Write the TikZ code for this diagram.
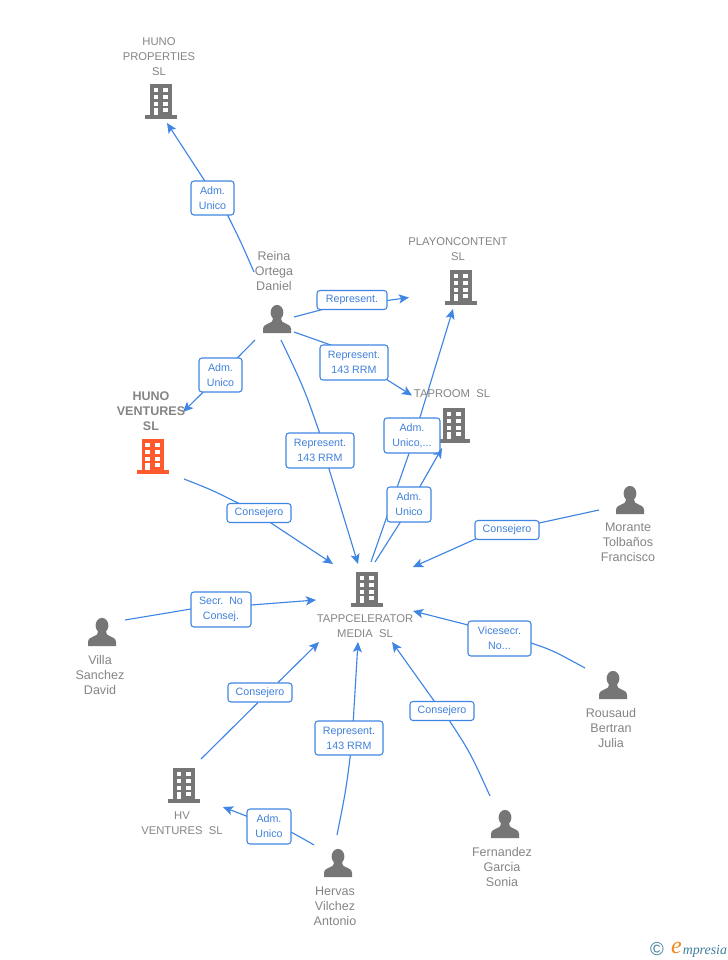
\documentclass[tikz,border=0pt]{standalone}
\usepackage{fontspec}
\setmainfont{Liberation Sans}
\newfontfamily\logoserif{Liberation Serif}
\usetikzlibrary{arrows.meta,backgrounds,calc}
\definecolor{linkblue}{HTML}{3F86E4}
\definecolor{labelblue}{HTML}{3F80DC}
\definecolor{icongray}{HTML}{767676}
\definecolor{textgray}{HTML}{858585}
\definecolor{hotorange}{HTML}{FF5A2B}
\definecolor{logoteal}{HTML}{3F7F9F}
\definecolor{logoorange}{HTML}{F08A1E}
\tikzset{
  x=0.75pt,y=-0.75pt,
  iconbox/.style={minimum width=24pt,minimum height=26pt,inner sep=0pt,outer sep=0pt},
  nametext/.style={text=textgray,align=center,inner sep=0pt,font=\fontsize{8.44}{11.25}\selectfont},
  personname/.style={nametext,font=\fontsize{9.4}{11.25}\selectfont},
  boldname/.style={nametext,font=\bfseries\fontsize{9.4}{11.25}\selectfont},
  lab/.style 2 args={draw=linkblue,fill=white,line width=0.8pt,rounded corners=2.2pt,text=labelblue,
    align=center,inner sep=0pt,minimum width=#1*0.75pt,minimum height=#2*0.75pt,
    font=\fontsize{8}{11.25}\selectfont},
  link/.style={draw=linkblue,line width=0.85pt},
  arrowlink/.style={link,-{Stealth[length=7.6pt,width=6.8pt,inset=1.8pt]}},
  pics/bldg/.style={code={
    \fill[#1] (-11,-17) rectangle (11,14.5);
    \fill[#1] (-16,14) rectangle (16,17.5);
    \foreach \wy/\wh in {-13/-9.3,-6/-2,0.7/5}{
      \fill[white] (-7.3,\wy) rectangle (-2.7,\wh);
      \fill[white] (2.3,\wy) rectangle (7.3,\wh);
    }
    \fill[white] (-7.3,7) rectangle (-2.7,14.2);
    \fill[white] (2.3,7) rectangle (7.3,11);
  }},
  pics/person/.style={code={
    \fill[icongray] (0,-6.5) ellipse [x radius=6.4,y radius=7.6];
    \fill[icongray] (-14,14) -- (-14,9.5) .. controls (-14,5.5) and (-8,5) .. (-5,2.5)
      -- (-3.5,-2) -- (3.5,-2) -- (5,2.5) .. controls (8,5) and (14,5.5) .. (14,9.5) -- (14,14) -- cycle;
  }},
}
\newcommand{\company}[3]{\node[iconbox] (#1) at (#2) {}; \pic at (#1) {bldg=#3};}
\newcommand{\individual}[2]{\node[iconbox] (#1) at (#2) {}; \pic at (#1) {person};}
\begin{document}
\begin{tikzpicture}
\useasboundingbox (0,0) rectangle (728,960);

% companies
\company{hunoprop}{161,101}{icongray}
\company{playon}{461,287}{icongray}
\company{taproom}{454,425}{icongray}
\company{hunovent}{152.5,456}{hotorange}
\company{tapp}{367,589}{icongray}
\company{hv}{184,785}{icongray}

% people
\individual{reina}{277,319}
\individual{morante}{630,500}
\individual{villa}{102,632}
\individual{rousaud}{613,685}
\individual{fernandez}{505,824}
\individual{hervas}{338,863}

% names
\node[nametext] (thunoprop) at (159,56.5) {HUNO\\PROPERTIES\\SL};
\node[nametext] (tplayon) at (458,249) {PLAYONCONTENT\\SL};
\node[nametext] (ttaproom) at (452,394) {TAPROOM\ \ SL};
\node[boldname] (thunovent) at (151,411) {HUNO\\VENTURES\\SL};
\node[nametext] (ttapp) at (365,626) {TAPPCELERATOR\\MEDIA\ \ SL};
\node[nametext] (thv) at (182,823) {HV\\VENTURES\ \ SL};
\node[personname] (treina) at (274,271) {Reina\\Ortega\\Daniel};
\node[personname] (tmorante) at (628,542.5) {Morante\\Tolba\~nos\\Francisco};
\node[personname] (tvilla) at (100,675.5) {Villa\\Sanchez\\David};
\node[personname] (trousaud) at (611,728) {Rousaud\\Bertran\\Julia};
\node[personname] (tfernandez) at (502,867) {Fernandez\\Garcia\\Sonia};
\node[personname] (thervas) at (335,906.5) {Hervas\\Vilchez\\Antonio};

% connector labels
\node[lab={43}{34}] (l1) at (212.5,198) {Adm.\\Unico};
\node[lab={70}{19}] (l2) at (352,300) {\raisebox{-1pt}{Represent.}};
\node[lab={68}{35}] (l3) at (354,362.5) {Represent.\\143 RRM};
\node[lab={43}{34}] (l4) at (220.5,375) {Adm.\\Unico};
\node[lab={68}{35}] (l5) at (320,450.5) {Represent.\\143 RRM};
\node[lab={64}{19}] (l6) at (259,513) {\raisebox{-1pt}{Consejero}};
\node[lab={56}{35}] (l7) at (412,435.5) {Adm.\\Unico,...};
\node[lab={44}{35}] (l8) at (409,504.5) {Adm.\\Unico};
\node[lab={64}{19}] (l9) at (507,530) {\raisebox{-1pt}{Consejero}};
\node[lab={63}{35}] (l10) at (499.5,638.5) {Vicesecr.\\No...};
\node[lab={64}{19}] (l11) at (442,711) {\raisebox{-1pt}{Consejero}};
\node[lab={68}{34}] (l12) at (349,738) {Represent.\\143 RRM};
\node[lab={44}{35}] (l13) at (269,826.5) {Adm.\\Unico};
\node[lab={64}{19}] (l14) at (260,692.5) {\raisebox{-1pt}{Consejero}};
\node[lab={60}{35}] (l15) at (221,609.5) {Secr.\ \ No\\Consej.};

% connectors, behind the labels
\begin{pgfonlayer}{background}
\fill[white] (0,0) rectangle (728,960);
\draw[link] ([shift={(-23,-47)}]reina.center) .. controls (240,240) .. ([shift={(14,15)}]l1.center);
\draw[arrowlink] ([shift={(-7,-16)}]l1.center) -- ([shift={(6,22)}]hunoprop.center);
\draw[link] ([shift={(17,-2)}]reina.center) -- ([shift={(-20,7)}]l2.center);
\draw[arrowlink] ([shift={(28,1.5)}]l2.center) -- ([shift={(-52,10.5)}]playon.center);
\draw[link] ([shift={(17,13)}]reina.center) -- ([shift={(-19,-16)}]l3.center);
\draw[arrowlink] ([shift={(31,16)}]l3.center) -- ([shift={(-42,-29.5)}]taproom.center);
\draw[link] ([shift={(-22,21)}]reina.center) -- (l4.center);
\draw[arrowlink] (l4.center) -- ([shift={(30.5,-44)}]hunovent.center);
\draw[link] ([shift={(4,21)}]reina.center) .. controls (304,388) .. ([shift={(1,-13.5)}]l5.center);
\draw[arrowlink] ([shift={(8,15)}]l5.center) -- ([shift={(-9,-25)}]tapp.center);
\draw[link] ([shift={(31.5,23)}]hunovent.center) .. controls (212,490) .. ([shift={(-17,-8)}]l6.center);
\draw[arrowlink] ([shift={(9,8)}]l6.center) -- ([shift={(-34,-25)}]tapp.center);
\draw[link] ([shift={(4,-27)}]tapp.center) -- ([shift={(-2,15)}]l7.center);
\draw[arrowlink] ([shift={(7,-15)}]l7.center) -- ([shift={(-8,22)}]playon.center);
\draw[link] ([shift={(8,-27)}]tapp.center) -- ([shift={(-7,15)}]l8.center);
\draw[arrowlink] ([shift={(9,-14.5)}]l8.center) -- ([shift={(-12,23)}]taproom.center);
\draw[link] ([shift={(-31,10)}]morante.center) -- (l9.center);
\draw[arrowlink] ([shift={(-27,7)}]l9.center) -- ([shift={(46,-22)}]tapp.center);
\draw[link] ([shift={(-28,-17)}]rousaud.center) .. controls (552,650) .. ([shift={(28.5,3.5)}]l10.center);
\draw[arrowlink] ([shift={(-27.5,-12.5)}]l10.center) -- ([shift={(46,22)}]tapp.center);
\draw[link] ([shift={(-15,-28)}]fernandez.center) .. controls (470,752) .. ([shift={(5,6)}]l11.center);
\draw[arrowlink] ([shift={(-5,-6)}]l11.center) -- ([shift={(25,53)}]tapp.center);
\draw[link] ([shift={(-1,-28)}]hervas.center) .. controls (346,790) .. ([shift={(2,12)}]l12.center);
\draw[arrowlink] ([shift={(4,-13)}]l12.center) -- ([shift={(-9,53)}]tapp.center);
\draw[link] ([shift={(-24,-18)}]hervas.center) .. controls (302,838) .. ([shift={(19,4)}]l13.center);
\draw[arrowlink] ([shift={(-19,-9)}]l13.center) -- ([shift={(39,22)}]hv.center);
\draw[link] ([shift={(17,-26)}]hv.center) -- ([shift={(-2,10)}]l14.center);
\draw[arrowlink] ([shift={(18,-10)}]l14.center) -- ([shift={(-48,53)}]tapp.center);
\draw[link] ([shift={(23,-12)}]villa.center) -- ([shift={(-30,-0.5)}]l15.center);
\draw[arrowlink] ([shift={(30,-4.5)}]l15.center) -- ([shift={(-51,11)}]tapp.center);
\end{pgfonlayer}

% logo
\node[inner sep=0pt,text=logoteal,font=\fontsize{14}{14}\selectfont] (logoc) at (657,949) {©};
\node[inner sep=0pt,text=logoorange,font=\logoserif\itshape\fontsize{18}{18}\selectfont] (logoe) at (676.5,948) {e};
\node[inner sep=0pt,text=logoteal,anchor=base west,font=\logoserif\itshape\fontsize{10.4}{11}\selectfont] (logot) at (682.5,954) {mpresia};
\end{tikzpicture}
\end{document}
